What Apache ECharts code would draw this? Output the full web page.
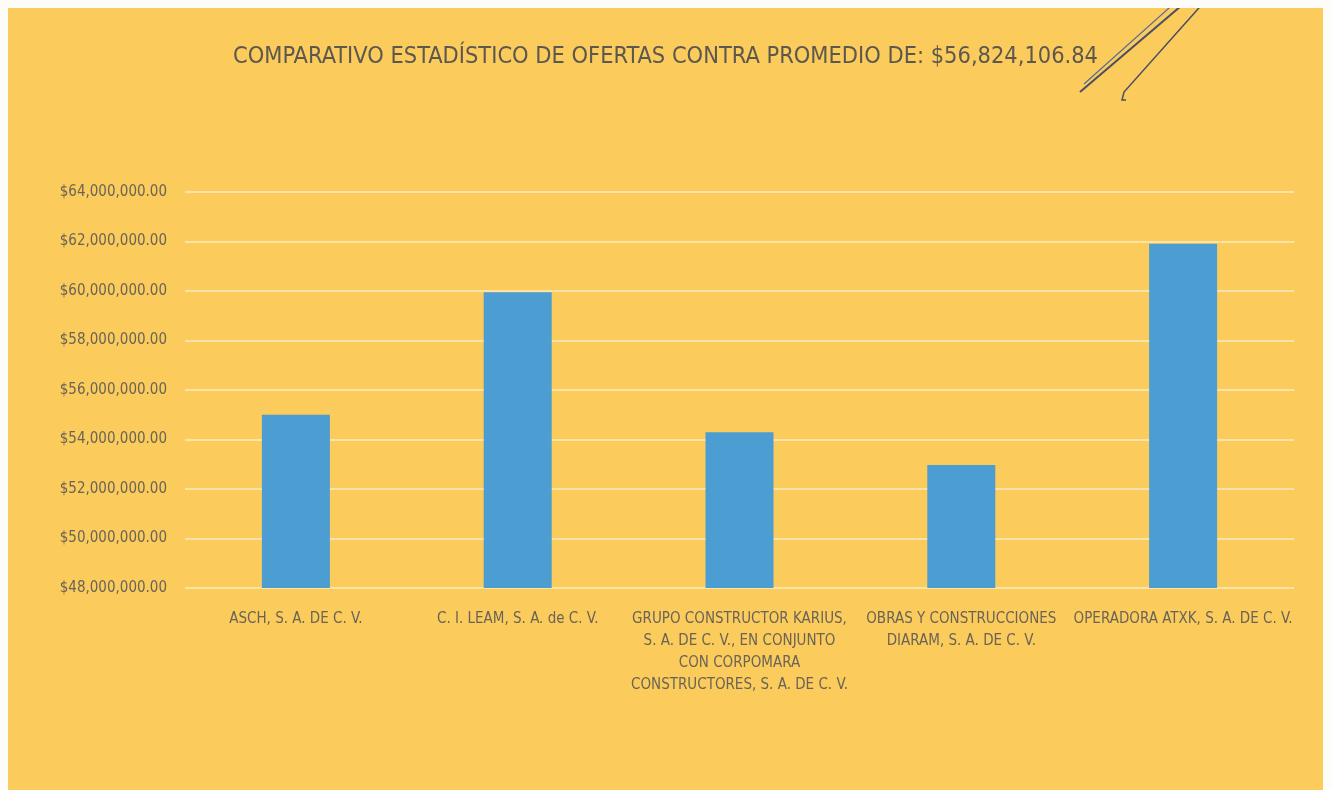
<!DOCTYPE html>
<html lang="es">

<head>
    <meta charset="UTF-8">
    <title>Comparativo</title>
    <script src="https://cdn.jsdelivr.net/npm/echarts@6/dist/echarts.min.js"></script>
    <style>
        body { margin: 0; background: #fdfcf8; }
        #container { position: absolute; left: 8px; top: 8px; width: 1315px; height: 782px; }
    </style>
</head>

<body>
    <div id="container"></div>
    <script type="text/javascript">
        var titleText = 'COMPARATIVO ESTADÍSTICO DE OFERTAS CONTRA PROMEDIO DE: $56,824,106.84';
        var empresas = [
            'ASCH, S. A. DE C. V.',
            'C. I. LEAM, S. A. de C. V.',
            'GRUPO CONSTRUCTOR KARIUS,\nS. A. DE C. V., EN CONJUNTO\nCON CORPOMARA\nCONSTRUCTORES, S. A. DE C. V.',
            'OBRAS Y CONSTRUCCIONES\nDIARAM, S. A. DE C. V.',
            'OPERADORA ATXK, S. A. DE C. V.'
        ];
        var ofertas = [55000000, 59950000, 54290000, 52970000, 61910000];
        var yMin = 48000000, yMax = 64000000, yStep = 2000000;

        var fuente = "'Liberation Sans Narrow', 'DejaVu Sans Condensed', 'Noto Sans', sans-serif";

        function moneda(v) {
            return '$' + v.toLocaleString('en-US', { minimumFractionDigits: 2, maximumFractionDigits: 2 });
        }

        var myChart = echarts.init(document.getElementById('container'), null, { renderer: 'canvas' });

        var option = {
            backgroundColor: '#fbcb5b',
            title: {
                text: titleText,
                left: 'center',
                top: 32,
                textStyle: { fontFamily: fuente, fontSize: 23.4, fontWeight: 'normal', color: '#5c5850' }
            },
            grid: { left: 177, top: 184, width: 1109, height: 396 },
            xAxis: {
                type: 'category',
                data: empresas,
                axisLine: { show: false },
                axisTick: { show: false },
                axisLabel: {
                    interval: 0,
                    margin: 20,
                    fontFamily: fuente,
                    fontSize: 15,
                    lineHeight: 22,
                    color: '#6a6458',
                    verticalAlign: 'top',
                    align: 'center'
                }
            },
            yAxis: {
                type: 'value',
                min: yMin,
                max: yMax,
                interval: yStep,
                axisLine: { show: false },
                axisTick: { show: false },
                axisLabel: {
                    margin: 18,
                    fontFamily: fuente,
                    fontSize: 15,
                    color: '#6a6458',
                    formatter: moneda
                },
                splitLine: { lineStyle: { color: '#fde3a8', width: 2 } }
            },
            series: [{
                type: 'bar',
                data: ofertas,
                barWidth: 68,
                itemStyle: { color: '#4b9dd2' }
            }],
            graphic: [
                { type: 'line', shape: { x1: 1180, y1: -8, x2: 1072, y2: 84 }, style: { stroke: '#4a4f66', lineWidth: 2 } },
                { type: 'line', shape: { x1: 1170, y1: -8, x2: 1076, y2: 76 }, style: { stroke: '#5a6a9a', lineWidth: 1.2 } },
                { type: 'polyline', shape: { points: [[1198, -8], [1116, 84], [1114, 92], [1118, 92]] }, style: { stroke: '#4a4f66', lineWidth: 1.5, fill: null } }
            ]
        };

        myChart.setOption(option);
        window.addEventListener('resize', myChart.resize);
    </script>
</body>

</html>
